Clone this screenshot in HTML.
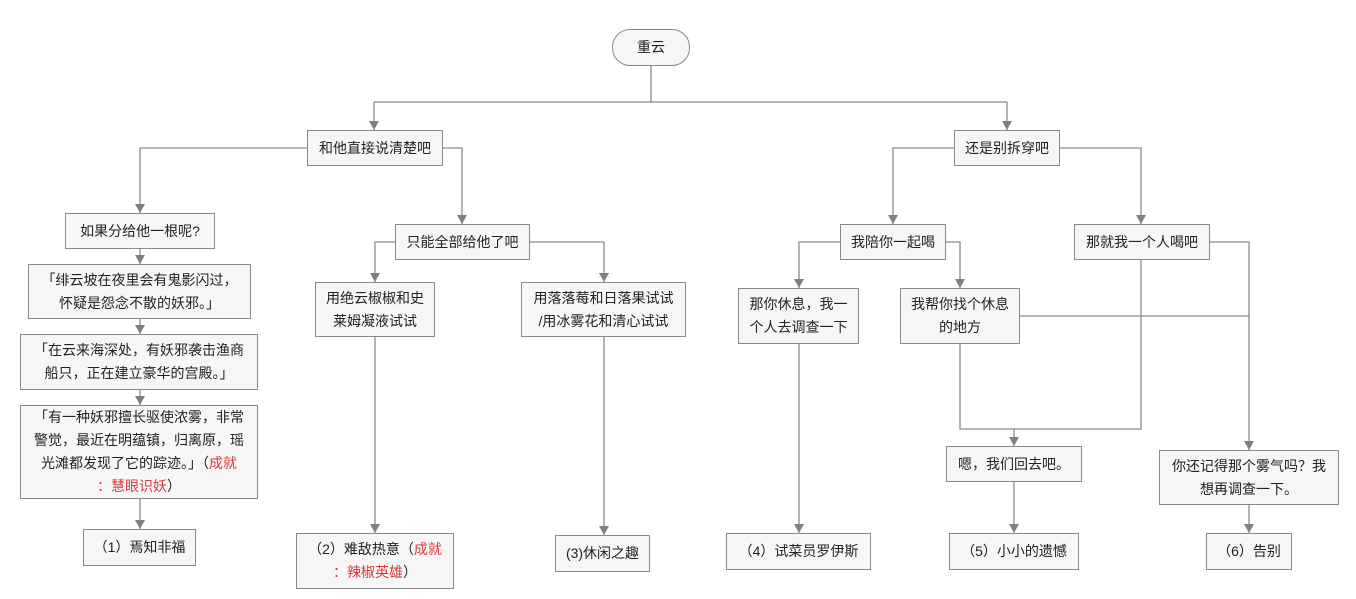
<!DOCTYPE html>
<html><head><meta charset="utf-8"><style>
body{margin:0;width:1356px;height:599px;background:#fff;position:relative;overflow:hidden;font-family:"Liberation Sans","Noto Sans CJK SC",sans-serif;}
.b{position:absolute;box-sizing:border-box;background:#f6f6f6;border:1px solid #8a8a8a;display:flex;align-items:center;justify-content:center;text-align:center;font-size:14px;line-height:23px;color:#222;padding:0 2px;white-space:nowrap;}
.r{color:#d9393b;}
svg{position:absolute;left:0;top:0;}
</style></head><body>
<svg width="1356" height="599">
<g stroke="#8a8a8a" stroke-width="1.3" fill="none">
<path d="M651 66V102M374 102H1007"/>
<path d="M374 102V130M1007 102V130"/>
<path d="M307 148H140V213M443 148H462V224"/>
<path d="M395 242H375V282M530 242H604V282"/>
<path d="M140 249V264M140 319V334M140 390V405M140 499V529"/>
<path d="M375 337V533M604 337V535"/>
<path d="M954 148H893V224M1060 148H1141V224"/>
<path d="M840 242H799V288M946 242H960V288"/>
<path d="M1210 242H1249V450M1020 316H1249"/>
<path d="M1141 260V429H960V344M1014 429V446"/>
<path d="M799 344V533M1014 482V533M1249 505V533"/>
</g>
<g fill="#808080">
<path d="M369 121h10l-5 9z"/><path d="M1002 121h10l-5 9z"/>
<path d="M135 204h10l-5 9z"/><path d="M457 215h10l-5 9z"/>
<path d="M370 273h10l-5 9z"/><path d="M599 273h10l-5 9z"/>
<path d="M135 255h10l-5 9z"/><path d="M135 325h10l-5 9z"/><path d="M135 396h10l-5 9z"/><path d="M135 520h10l-5 9z"/>
<path d="M370 524h10l-5 9z"/><path d="M599 526h10l-5 9z"/>
<path d="M888 215h10l-5 9z"/><path d="M1136 215h10l-5 9z"/>
<path d="M794 279h10l-5 9z"/><path d="M955 279h10l-5 9z"/>
<path d="M1244 441h10l-5 9z"/><path d="M1009 437h10l-5 9z"/>
<path d="M794 524h10l-5 9z"/><path d="M1009 524h10l-5 9z"/><path d="M1244 524h10l-5 9z"/>
</g>
</svg>
<div class="b" style="left:612px;top:29px;width:78px;height:37px;border-radius:18px;"><div>重云</div></div>
<div class="b" style="left:307px;top:130px;width:136px;height:36px;"><div>和他直接说清楚吧</div></div>
<div class="b" style="left:954px;top:130px;width:106px;height:36px;"><div>还是别拆穿吧</div></div>
<div class="b" style="left:65px;top:213px;width:150px;height:36px;"><div>如果分给他一根呢?</div></div>
<div class="b" style="left:395px;top:224px;width:135px;height:36px;"><div>只能全部给他了吧</div></div>
<div class="b" style="left:840px;top:224px;width:106px;height:36px;"><div>我陪你一起喝</div></div>
<div class="b" style="left:1074px;top:224px;width:136px;height:36px;"><div>那就我一个人喝吧</div></div>
<div class="b" style="left:28px;top:264px;width:223px;height:55px;"><div>「绯云坡在夜里会有鬼影闪过，<br>怀疑是怨念不散的妖邪。」</div></div>
<div class="b" style="left:20px;top:334px;width:238px;height:56px;"><div>「在云来海深处，有妖邪袭击渔商<br>船只，正在建立豪华的宫殿。」</div></div>
<div class="b" style="left:20px;top:405px;width:238px;height:94px;"><div>「有一种妖邪擅长驱使浓雾，非常<br>警觉，最近在明蕴镇，归离原，瑶<br>光滩都发现了它的踪迹。」（<span class="r">成就</span><br><span class="r">：慧眼识妖</span>）</div></div>
<div class="b" style="left:315px;top:282px;width:120px;height:55px;"><div>用绝云椒椒和史<br>莱姆凝液试试</div></div>
<div class="b" style="left:521px;top:282px;width:165px;height:55px;"><div>用落落莓和日落果试试<br>/用冰雾花和清心试试</div></div>
<div class="b" style="left:738px;top:288px;width:121px;height:56px;"><div>那你休息，我一<br>个人去调查一下</div></div>
<div class="b" style="left:900px;top:288px;width:120px;height:56px;"><div>我帮你找个休息<br>的地方</div></div>
<div class="b" style="left:946px;top:446px;width:136px;height:36px;"><div>嗯，我们回去吧。</div></div>
<div class="b" style="left:1159px;top:450px;width:180px;height:55px;"><div>你还记得那个雾气吗？我<br>想再调查一下。</div></div>
<div class="b" style="left:83px;top:529px;width:113px;height:37px;"><div>（1）焉知非福</div></div>
<div class="b" style="left:296px;top:533px;width:158px;height:56px;"><div>（2）难敌热意（<span class="r">成就</span><br><span class="r">：辣椒英雄</span>）</div></div>
<div class="b" style="left:555px;top:535px;width:95px;height:37px;"><div>(3)休闲之趣</div></div>
<div class="b" style="left:726px;top:533px;width:145px;height:37px;"><div>（4）试菜员罗伊斯</div></div>
<div class="b" style="left:949px;top:533px;width:130px;height:37px;"><div>（5）小小的遗憾</div></div>
<div class="b" style="left:1206px;top:533px;width:86px;height:37px;"><div>（6）告别</div></div>
</body></html>
